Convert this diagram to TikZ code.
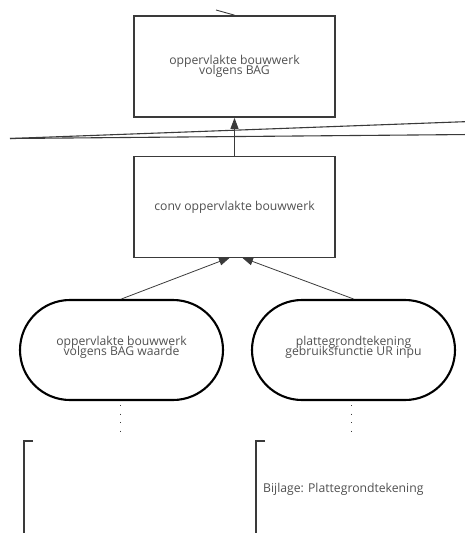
\documentclass[tikz,border=0pt]{standalone}
\usepackage{fontspec}
\setmainfont{Open Sans}
\usetikzlibrary{arrows.meta,shapes.misc}
\definecolor{txt}{HTML}{505050}
\definecolor{edge}{HTML}{3a3a3a}
\newcommand\mytight{\fontsize{12.2}{10}\selectfont\lineskiplimit=-20pt\relax\lineskip=0pt\relax}
\tikzset{
  lbl/.style={text=txt,font=\mytight,align=center,inner sep=0pt},
  boxnode/.style={lbl,draw=edge,line width=1.7pt,minimum width=201pt,minimum height=101pt},
  pillnode/.style={draw=black,line width=2.1pt,rounded rectangle,minimum width=203pt,minimum height=100pt,inner sep=0pt},
  flow/.style={draw=edge,line width=0.8pt,-{Triangle[length=11pt,width=8pt]}},
  thin/.style={draw=edge,line width=0.9pt},
  dotline/.style={draw=edge,line width=1pt,dash pattern=on 1pt off 7.5pt},
  bracket/.style={draw=edge,line width=2pt},
}
\begin{document}
\begin{tikzpicture}[x=1pt,y=-1pt]
\useasboundingbox (0,0) rectangle (465,533);
\node[boxnode] (top) at (234.5,66.5) {oppervlakte bouwwerk\\volgens BAG};
\node[boxnode] (conv) at (234.5,207) {conv oppervlakte bouwwerk};
\node[pillnode] (lp) at (121.5,350) {};
\node[lbl] (lpt) at (121.5,347) {oppervlakte bouwwerk\\volgens BAG waarde};
\node[pillnode] (rp) at (353.5,350) {};
\node[lbl] (rpt) at (353.5,347) {plattegrondtekening\\gebruiksfunctie UR inpu};
% short line into top box
\coordinate (t0) at (216,10);
\draw[thin] (t0) -- (top.north);
% long lines
\coordinate (l0) at (10,138.5);
\coordinate (l1) at (470,121.5);
\coordinate (l2) at (470,134.5);
\draw[thin,line width=1.1pt] (l0) -- (l1);
\draw[thin,line width=1.1pt] (l0) -- (l2);
% arrows
\draw[flow] (conv.north) -- (top.south);
\coordinate (ca) at (230,257.5);
\coordinate (cb) at (242,257.5);
\draw[flow] (lp.north) -- (ca);
\draw[flow] (rp.north) -- (cb);
% dotted
\coordinate (ld) at (120,434);
\coordinate (rd) at (351,434);
\draw[dotline] (120,405) -- (ld);
\draw[dotline] (351,405) -- (rd);
% brackets
\coordinate (b1) at (33,440.5);
\coordinate (b2) at (265,440.5);
\draw[bracket] (b1) -- (23.5,440.5) -- (23.5,540);
\draw[bracket] (b2) -- (255.5,440.5) -- (255.5,540);
\node[lbl,anchor=west] (bij) at (263,489) {Bijlage: Plattegrondtekening};
\end{tikzpicture}
\end{document}
